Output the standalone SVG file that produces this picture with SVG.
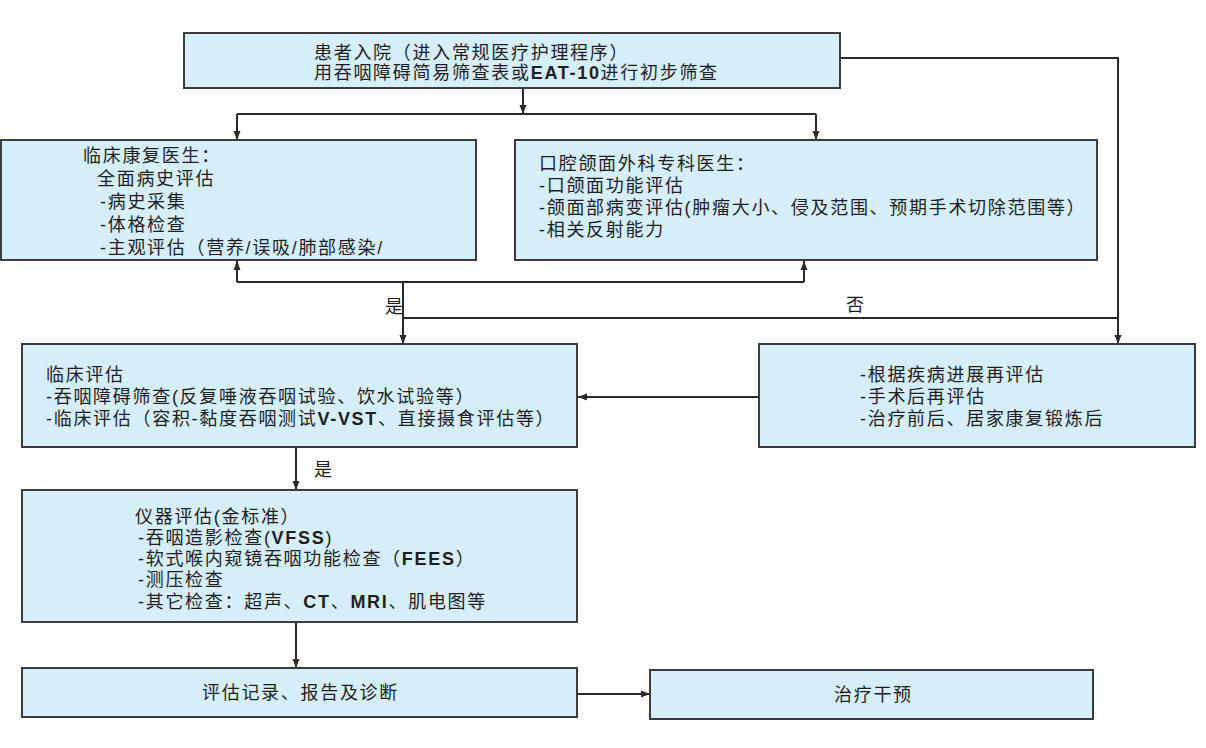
<svg xmlns="http://www.w3.org/2000/svg" width="1206" height="748" viewBox="0 0 1206 748">
<defs>
<style>
.box{fill:#d5eef9;stroke:#3c3c3c;stroke-width:2}
.t{font-family:"Liberation Sans","Noto Sans CJK SC",sans-serif;font-size:18px;fill:#1e1e1e;letter-spacing:1.7px}
.b{font-weight:bold}
.c{fill:none;stroke:#2a2a2a;stroke-width:2}
</style>
<marker id="ah" markerUnits="userSpaceOnUse" markerWidth="9" markerHeight="8" refX="9" refY="4" orient="auto">
<path d="M0,0.5 L9,4 L0,7.5 z" fill="#2a2a2a"/>
</marker>
</defs>
<rect width="1206" height="748" fill="#ffffff"/>

<g id="connectors">
<path class="c" d="M523,88 V114" marker-end="url(#ah)"/>
<path class="c" d="M237,114 H816"/>
<path class="c" d="M237,114 V140" marker-end="url(#ah)"/>
<path class="c" d="M816,114 V140" marker-end="url(#ah)"/>
<path class="c" d="M840,58 H1118 V344" marker-end="url(#ah)"/>
<path class="c" d="M237,282 H804"/>
<path class="c" d="M237,282 V261" marker-end="url(#ah)"/>
<path class="c" d="M804,282 V261" marker-end="url(#ah)"/>
<path class="c" d="M403,282 V344" marker-end="url(#ah)"/>
<path class="c" d="M403,318 H1118"/>
<path class="c" d="M759,397 H578" marker-end="url(#ah)"/>
<path class="c" d="M296,447 V490" marker-end="url(#ah)"/>
<path class="c" d="M296,622 V668" marker-end="url(#ah)"/>
<path class="c" d="M577,694 H650" marker-end="url(#ah)"/>
<text class="t" x="385" y="313">是</text>
<text class="t" x="846" y="311">否</text>
<text class="t" x="314" y="476">是</text>
</g>

<g id="admission">
<rect class="box" x="184" y="33" width="656" height="55"/>
<text class="t" x="314" y="59">患者入院（进入常规医疗护理程序）</text>
<text class="t" x="314" y="79">用吞咽障碍简易筛查表或<tspan class="b">EAT-10</tspan>进行初步筛查</text>
</g>

<g id="rehab-doctor">
<rect class="box" x="1" y="140" width="475" height="120"/>
<text class="t" x="83" y="162">临床康复医生：</text>
<text class="t" x="97" y="185">全面病史评估</text>
<text class="t" x="100" y="208">-病史采集</text>
<text class="t" x="100" y="231">-体格检查</text>
<text class="t" x="100" y="254">-主观评估（营养/误吸/肺部感染/</text>
</g>

<g id="oral-surgeon">
<rect class="box" x="515" y="140" width="582" height="120"/>
<text class="t" x="539" y="170">口腔颌面外科专科医生：</text>
<text class="t" x="539" y="192">-口颌面功能评估</text>
<text class="t" x="539" y="214">-颌面部病变评估(肿瘤大小、侵及范围、预期手术切除范围等）</text>
<text class="t" x="539" y="236">-相关反射能力</text>
</g>

<g id="clinical-eval">
<rect class="box" x="22" y="344" width="555" height="103"/>
<text class="t" x="46" y="381">临床评估</text>
<text class="t" x="46" y="403">-吞咽障碍筛查(反复唾液吞咽试验、饮水试验等）</text>
<text class="t" x="46" y="425">-临床评估（容积-黏度吞咽测试<tspan class="b">V-VST</tspan>、直接摄食评估等）</text>
</g>

<g id="re-eval">
<rect class="box" x="759" y="344" width="436" height="103"/>
<text class="t" x="860" y="381">-根据疾病进展再评估</text>
<text class="t" x="860" y="403">-手术后再评估</text>
<text class="t" x="860" y="425">-治疗前后、居家康复锻炼后</text>
</g>

<g id="instrument-eval">
<rect class="box" x="22" y="490" width="555" height="132"/>
<text class="t" x="135" y="523">仪器评估(金标准）</text>
<text class="t" x="138" y="544">-吞咽造影检查(<tspan class="b">VFSS</tspan>)</text>
<text class="t" x="138" y="565">-软式喉内窥镜吞咽功能检查（<tspan class="b">FEES</tspan>）</text>
<text class="t" x="138" y="586">-测压检查</text>
<text class="t" x="138" y="608">-其它检查：超声、<tspan class="b">CT</tspan>、<tspan class="b">MRI</tspan>、肌电图等</text>
</g>

<g id="report">
<rect class="box" x="22" y="668" width="555" height="49"/>
<text class="t" x="202" y="699">评估记录、报告及诊断</text>
</g>

<g id="treatment">
<rect class="box" x="650" y="670" width="443" height="49"/>
<text class="t" x="834" y="701">治疗干预</text>
</g>
</svg>
